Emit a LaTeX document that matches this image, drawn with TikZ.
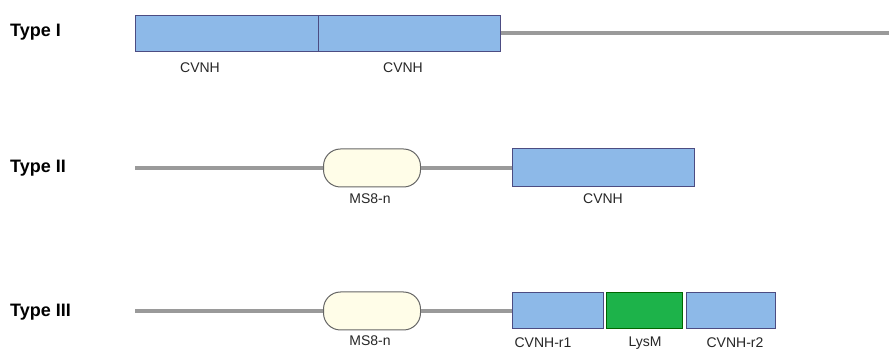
\documentclass[tikz,border=0pt]{standalone}
\usepackage{fontspec}
\setmainfont{Liberation Sans}
\begin{document}
\begin{tikzpicture}[x=1pt,y=-1pt,
  dom/.style={draw=blue!30!black!70, line width=1pt, fill=cvblue, inner sep=0pt, minimum height=#1},
  dom/.default=36pt,
  pill/.style={draw=gray!80!black, line width=1pt, fill=pillfill, rounded corners=17pt, inner sep=0pt, minimum width=97pt, minimum height=38pt},
  chain/.style={draw=linegray, line width=3.5pt},
  tlabel/.style={font=\bfseries\fontsize{18}{18}\selectfont, anchor=west, inner sep=0pt},
  dlabel/.style={font=\fontsize{14}{14}\selectfont, inner sep=0pt, text=black!85}
]
\definecolor{cvblue}{HTML}{8DB9E8}
\definecolor{linegray}{HTML}{9A9A9A}
\definecolor{pillfill}{HTML}{FFFDE8}
\definecolor{lysgreen}{HTML}{1DB34A}
\useasboundingbox (0,0) rectangle (889,352);

% Type I
\node[tlabel] (t1) at (10,32) {Type I};
\coordinate (e1) at (889,33);
\node[dom, minimum width=183pt, anchor=west] (a1) at (135,34) {};
\node[dom, minimum width=182pt, anchor=west] (a2) at (318,34) {};
\draw[chain] (a2.east |- e1) -- (e1);
\node[dlabel] (la1) at (200,68) {CVNH};
\node[dlabel] (la2) at (403,68) {CVNH};

% Type II
\node[tlabel] (t2) at (10,168) {Type II};
\coordinate (s2) at (135,168);
\node[pill] (p2) at (372,168) {};
\node[dom, minimum width=182pt, minimum height=38pt, anchor=west] (b2) at (512,168) {};
\draw[chain] (s2) -- (p2.west);
\draw[chain] (p2.east) -- (b2.west);
\node[dlabel] (lp2) at (370,199) {MS8-n};
\node[dlabel] (lb2) at (603,199) {CVNH};

% Type III
\node[tlabel] (t3) at (10,312) {Type III};
\coordinate (s3) at (135,311);
\node[pill] (p3) at (372,311) {};
\node[dom, minimum width=91pt, anchor=west] (c1) at (512,311) {};
\node[dom, minimum width=76pt, anchor=west, fill=lysgreen, draw=green!40!black] (c2) at (606,311) {};
\node[dom, minimum width=89pt, anchor=west] (c3) at (686,311) {};
\draw[chain] (s3) -- (p3.west);
\draw[chain] (p3.east) -- (c1.west);
\node[dlabel] (lp3) at (370,341) {MS8-n};
\node[dlabel] (lc1) at (543,343) {CVNH-r1};
\node[dlabel] (lc2) at (645,343) {LysM};
\node[dlabel] (lc3) at (735,343) {CVNH-r2};
\end{tikzpicture}
\end{document}
